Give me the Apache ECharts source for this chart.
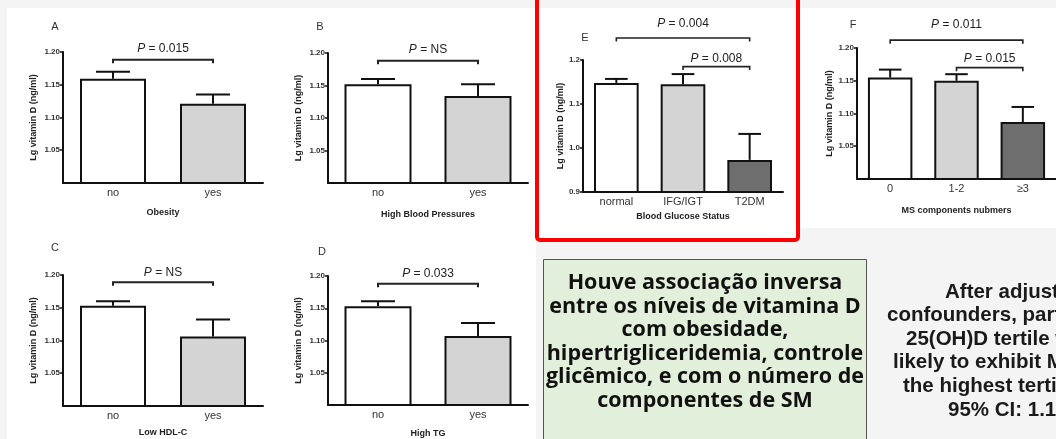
<!DOCTYPE html>
<html><head><meta charset="utf-8">
<script src="https://cdn.jsdelivr.net/npm/echarts@6/dist/echarts.min.js"></script>
<style>html,body{margin:0;padding:0;background:#f4f4f4}#c{width:1056px;height:439px}</style>
</head><body><div id="c"></div>
<script>
// ---------- data ----------
const catsYesNo = ['no', 'yes'];
const catsGlucose = ['normal', 'IFG/IGT', 'T2DM'];
const catsMS = ['0', '1-2', '≥3'];

const obesityMean = [1.159, 1.121];
const obesityErr  = [1.170, 1.135];
const bpMean = [1.152, 1.134];
const bpErr  = [1.160, 1.152];
const hdlMean = [1.153, 1.106];
const hdlErr  = [1.160, 1.132];
const tgMean = [1.153, 1.107];
const tgErr  = [1.161, 1.127];
const glucoseMean = [1.148, 1.145, 0.973];
const glucoseErr  = [1.157, 1.168, 1.032];
const msMean = [1.155, 1.150, 1.087];
const msErr  = [1.167, 1.160, 1.110];

// brackets: [fromIndex, toIndex, yValue, p-label]
const obesityBrackets = [[0, 1, 1.188, '0.015']];
const bpBrackets = [[0, 1, 1.188, 'NS']];
const hdlBrackets = [[0, 1, 1.189, 'NS']];
const tgBrackets = [[0, 1, 1.188, '0.033']];
const glucoseBrackets = [[0, 2, 1.25, '0.004'], [1, 2, 1.185, '0.008']];
const msBrackets = [[0, 2, 1.212, '0.011'], [1, 2, 1.170, '0.015']];

const yTicksMain = [1.00, 1.05, 1.10, 1.15, 1.20];
const yTicksGlucose = [0.9, 1.0, 1.1, 1.2];

const yTitle = 'Lg vitamin D (ng/ml)';
const greenText = ['Houve associação inversa', 'entre os níveis de vitamina D', 'com obesidade,',
  'hipertrigliceridemia, controle', 'glicêmico, e com o número de', 'componentes de SM'];
const rightText = ['After adjusting for potential', 'confounders, participants in the lowest',
  '25(OH)D tertile were more', 'likely to exhibit MS than those in', 'the highest tertile (OR: 1.xx,', '95% CI: 1.1x–x.xx)'];

// ---------- styling / layout ----------
const FONT = '"Liberation Sans", Arial, sans-serif';
const WHITE = '#ffffff', LIGHT = '#d4d4d4', DARK = '#6e6e6e';
const panels = [
  {letter:'A', cats:catsYesNo, mean:obesityMean, err:obesityErr, br:obesityBrackets, ticks:yTicksMain, colors:[WHITE, LIGHT],
   grid:{left:63, top:52, width:200, height:131}, xname:'Obesity', xgap:25, ygap:25, dec:2, letterPos:[55,27], barW:'66%', brOff:[11]},
  {letter:'B', cats:catsYesNo, mean:bpMean, err:bpErr, br:bpBrackets, ticks:yTicksMain, colors:[WHITE, LIGHT],
   grid:{left:328, top:53, width:200, height:130}, xname:'High Blood Pressures', xgap:27, ygap:25, dec:2, letterPos:[320,27], barW:'67%', brOff:[11]},
  {letter:'C', cats:catsYesNo, mean:hdlMean, err:hdlErr, br:hdlBrackets, ticks:yTicksMain, colors:[WHITE, LIGHT],
   grid:{left:63, top:275, width:200, height:131}, xname:'Low HDL-C', xgap:22, ygap:25, dec:2, letterPos:[55,248], barW:'66%', brOff:[10]},
  {letter:'D', cats:catsYesNo, mean:tgMean, err:tgErr, br:tgBrackets, ticks:yTicksMain, colors:[WHITE, LIGHT],
   grid:{left:328, top:276, width:200, height:131}, xname:'High TG', xgap:24, ygap:25, dec:2, letterPos:[322,252], barW:'67%', brOff:[10]},
  {letter:'E', cats:catsGlucose, mean:glucoseMean, err:glucoseErr, br:glucoseBrackets, ticks:yTicksGlucose, colors:[WHITE, LIGHT, DARK],
   grid:{left:583, top:60, width:200, height:132}, xname:'Blood Glucose Status', xgap:20, ygap:17, dec:1, letterPos:[585,38], barW:'67%', brOff:[14, 8]},
  {letter:'F', cats:catsMS, mean:msMean, err:msErr, br:msBrackets, ticks:yTicksMain, colors:[WHITE, LIGHT, DARK],
   grid:{left:857, top:48, width:200, height:131}, xname:'MS components nubmers', xgap:27, ygap:23, dec:2, letterPos:[853,25], barW:'67%', brOff:[15, 9]}
];

const grids = [], xAxes = [], yAxes = [], series = [];
const graphics = [
  {type:'rect', shape:{x:7, y:8, width:529, height:440}, style:{fill:'#ffffff'}, z:-10},
  {type:'rect', shape:{x:537, y:8, width:261, height:231}, style:{fill:'#ffffff'}, z:-10},
  {type:'rect', shape:{x:800, y:8, width:260, height:220}, style:{fill:'#ffffff'}, z:-10},
  {type:'rect', shape:{x:537, y:-6, width:261, height:246, r:3}, style:{fill:'none', stroke:'#ff0000', lineWidth:4}, z:10},
  {type:'rect', shape:{x:543.5, y:259.5, width:323, height:190}, style:{fill:'#e2efda', stroke:'#555555', lineWidth:1}, z:-5}
];

panels.forEach((p, i) => {
  grids.push(Object.assign({containLabel:false}, p.grid));
  const tmin = p.ticks[0], tmax = p.ticks[p.ticks.length - 1];
  xAxes.push({
    gridIndex:i, type:'category', data:p.cats,
    axisLine:{lineStyle:{color:'#111', width:2}}, axisTick:{show:false},
    axisLabel:{fontFamily:FONT, fontSize:11, color:'#333', margin:4},
    name:p.xname, nameLocation:'middle', nameGap:p.xgap,
    nameTextStyle:{fontFamily:FONT, fontSize:9, fontWeight:'bold', color:'#222'}
  });
  yAxes.push({
    gridIndex:i, type:'value', min:tmin, max:tmax, interval:+(p.ticks[1] - p.ticks[0]).toFixed(2),
    axisLine:{show:true, lineStyle:{color:'#111', width:2}},
    axisTick:{show:true, length:3, lineStyle:{color:'#111', width:1.5}},
    splitLine:{show:false},
    axisLabel:{fontFamily:FONT, fontSize:8, fontWeight:'bold', color:'#333', margin:3,
      showMinLabel: p.dec === 1, formatter:v => v.toFixed(p.dec)},
    name:yTitle, nameLocation:'middle', nameRotate:90, nameGap:p.ygap,
    nameTextStyle:{fontFamily:FONT, fontSize:9, fontWeight:'bold', color:'#222'}
  });
  series.push({
    type:'bar', xAxisIndex:i, yAxisIndex:i, barWidth:p.barW, z:2,
    data:p.mean.map((v, k) => ({value:v, itemStyle:{color:p.colors[k]}})),
    itemStyle:{borderColor:'#111', borderWidth:2}
  });
  series.push({
    type:'custom', xAxisIndex:i, yAxisIndex:i, z:1, clip:false,
    data:p.mean.map((v, k) => [k, v, p.err[k]]),
    encode:{x:0, y:[1, 2]},
    renderItem:(params, api) => {
      const a = api.coord([api.value(0), api.value(1)]);
      const b = api.coord([api.value(0), api.value(2)]);
      const hw = api.size([1, 0])[0] * 0.17;
      return {type:'group', children:[
        {type:'line', shape:{x1:a[0], y1:a[1], x2:b[0], y2:b[1]}, style:{stroke:'#111', lineWidth:2}},
        {type:'line', shape:{x1:b[0] - hw, y1:b[1], x2:b[0] + hw, y2:b[1]}, style:{stroke:'#111', lineWidth:2}}
      ]};
    }
  });
  series.push({
    type:'custom', xAxisIndex:i, yAxisIndex:i, z:3, clip:false,
    data:p.br.map(d => [d[0], d[1], d[2]]),
    encode:{x:[0, 1], y:2},
    renderItem:(params, api) => {
      const a = api.coord([api.value(0), api.value(2)]);
      const b = api.coord([api.value(1), api.value(2)]);
      const off = p.brOff[params.dataIndex] || 11;
      const lbl = p.br[params.dataIndex][3];
      return {type:'group', children:[
        {type:'polyline', shape:{points:[[a[0], a[1] + 3.5], [a[0], a[1]], [b[0], b[1]], [b[0], b[1] + 3.5]]},
         style:{stroke:'#222', lineWidth:p.dec === 1 || p.letter === 'F' ? 1.6 : 2, fill:'none'}},
        {type:'text', x:(a[0] + b[0]) / 2, y:a[1] - off,
         style:{text:'{i|P} = ' + lbl, fontFamily:FONT, fontSize:12, fill:'#222', align:'center', verticalAlign:'middle',
           rich:{i:{fontStyle:'italic', fontFamily:FONT, fontSize:12, fill:'#222'}}}}
      ]};
    }
  });
  graphics.push({type:'text', x:p.letterPos[0], y:p.letterPos[1],
    style:{text:p.letter, fontFamily:FONT, fontSize:11, fill:'#333', align:'center', verticalAlign:'middle'}});
});

const greenY0 = 283, greenStep = 23.5;
greenText.forEach((t, k) => graphics.push({type:'text', x:705, y:greenY0 + k * greenStep,
  style:{text:t, fontFamily:'"Open Sans", "Noto Sans", sans-serif', fontWeight:'bold', fontSize:21.5, fill:'#111', align:'center', verticalAlign:'middle'}}));

const rightLeft = [945, 887, 906, 893, 903, 948];
rightText.forEach((t, k) => graphics.push({type:'text', x:rightLeft[k], y:292 + k * 23.6,
  style:{text:t, fontFamily:FONT, fontWeight:'bold', fontSize:20.5, fill:'#1a1a1a', align:'left', verticalAlign:'middle'}}));

const chart = echarts.init(document.getElementById('c'), null, {renderer:'canvas'});
chart.setOption({
  backgroundColor:'#f4f4f4', animation:false,
  grid:grids, xAxis:xAxes, yAxis:yAxes, series:series, graphic:graphics
});
</script></body></html>
